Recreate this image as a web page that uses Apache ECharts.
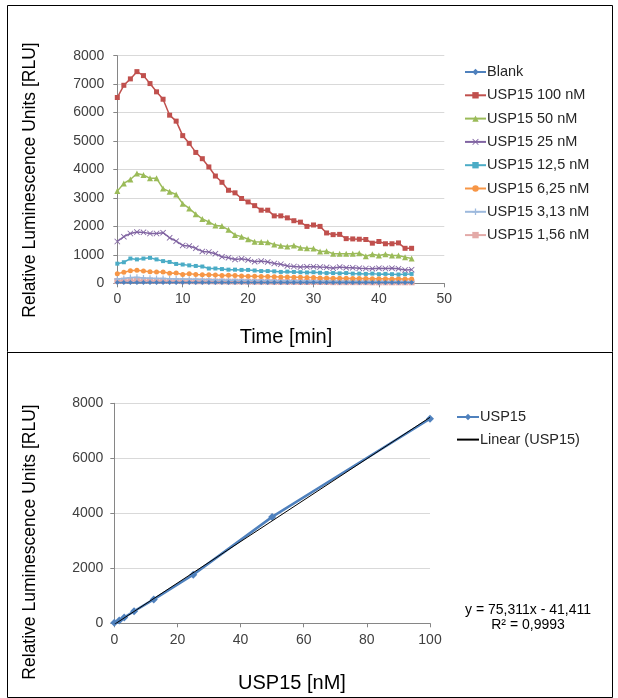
<!DOCTYPE html>
<html>
<head>
<meta charset="utf-8">
<script src="https://cdn.jsdelivr.net/npm/echarts@6/dist/echarts.min.js"></script>
<style>
html,body{margin:0;padding:0;background:#fff;}
#chart{width:618px;height:698px;}
</style>
</head>
<body>
<div id="chart"></div>
<script>
// ---------- DATA ----------
const timeMin = [0,1,2,3,4,5,6,7,8,9,10,11,12,13,14,15,16,17,18,19,20,21,22,23,24,25,26,27,28,29,30,31,32,33,34,35,36,37,38,39,40,41,42,43,44,45];
const seriesNames = ['Blank','USP15 100 nM','USP15 50 nM','USP15 25 nM','USP15 12,5 nM','USP15 6,25 nM','USP15 3,13 nM','USP15 1,56 nM'];
const blank   = [25,25,25,25,25,25,25,25,25,25,25,25,25,25,25,25,25,25,25,25,25,25,25,25,25,25,25,25,25,25,25,25,25,25,25,25,25,25,25,25,25,25,25,25,25,25];
const usp100  = [6530,6960,7185,7440,7300,7020,6730,6470,5910,5700,5190,4920,4600,4380,4090,3770,3550,3270,3180,2980,2860,2730,2570,2570,2370,2370,2300,2200,2150,2000,2050,2000,1770,1710,1720,1570,1560,1550,1540,1410,1470,1390,1390,1420,1230,1230];
const usp50   = [3240,3510,3650,3860,3810,3690,3690,3330,3220,3120,2800,2630,2430,2260,2160,2030,2010,1880,1700,1640,1550,1460,1450,1440,1360,1320,1290,1330,1250,1230,1220,1120,1130,1040,1040,1040,1040,1060,950,1020,980,1020,980,980,920,870];
const usp25   = [1470,1640,1750,1800,1790,1750,1750,1780,1600,1480,1330,1310,1230,1120,1100,1040,930,900,840,860,820,760,780,750,700,670,610,590,570,580,585,570,560,530,570,550,545,530,520,515,530,520,530,515,470,480];
const usp12_5 = [690,740,870,840,870,895,840,780,750,680,660,630,610,590,520,520,500,480,480,470,470,450,430,430,420,400,410,400,390,380,390,370,360,360,350,360,340,340,330,340,320,330,320,310,320,330];
const usp6_25 = [340,390,440,460,430,410,400,400,350,360,310,340,310,300,300,290,270,280,270,260,250,250,240,240,230,220,220,210,210,200,200,190,190,180,180,180,170,170,170,160,160,160,150,160,150,150];
const usp3_13 = [150,170,200,210,190,180,170,170,160,150,150,140,140,130,130,120,120,110,110,110,100,100,100,95,95,90,90,90,85,85,80,80,80,80,75,75,75,70,70,70,70,65,65,65,60,60];
const usp1_56 = [80,90,100,100,95,90,85,85,80,80,75,75,70,70,70,65,65,60,60,60,55,55,55,55,50,50,50,50,45,45,45,45,45,40,40,40,40,40,40,35,35,35,35,35,35,35];

const concNM   = [0,1.56,3.13,6.25,12.5,25,50,100];
const peakRLU  = [20,100,210,440,870,1770,3870,7440];
const trendX   = [0,100];
const trendY   = [-41.411,7489.689];

// ---------- STYLE ----------
const FONT = '"Liberation Sans", Arial, sans-serif';
const colors = ['#4F81BD','#C0504D','#9BBB59','#8064A2','#4BACC6','#F79646','#9DB9DD','#E3AAA8'];
const symX = 'path://M1,0L5,4L9,0L10,1L6,5L10,9L9,10L5,6L1,10L0,9L4,5L0,1Z';
const symPlus = 'path://M4,0H6V4H10V6H6V10H4V6H0V4H4Z';
const symDash = 'path://M0,4H10V6H0Z';
const symbols = ['diamond','rect','triangle',symX,'rect','circle',symPlus,symDash];
const symSizes = [5,5,6,6,4,5,6,6];
const allVals = [blank,usp100,usp50,usp25,usp12_5,usp6_25,usp3_13,usp1_56];

const plainNum = v => String(v);
const tickLabel = {color:'#404040', fontSize:14, fontFamily:FONT, formatter:plainNum};
const axisLineStyle = {lineStyle:{color:'#868686', width:1}};
const gridLine = {show:true, lineStyle:{color:'#d9d9d9', width:1}};

const topSeries = allVals.map((vals,i)=>({
  name: seriesNames[i],
  type:'line',
  xAxisIndex:0, yAxisIndex:0,
  data: timeMin.map((t,j)=>[t, vals[j]]),
  symbol: symbols[i],
  symbolSize: symSizes[i],
  showAllSymbol:true,
  lineStyle:{color:colors[i], width:1.5},
  itemStyle:{color:colors[i]},
  z: 10 - i,
  animation:false
}));

const option = {
  animation:false,
  backgroundColor:'#ffffff',
  textStyle:{fontFamily:FONT},
  grid:[
    {left:117.3, right:173.7, top:55.7, height:227.6},
    {left:114.3, right:188, top:403.3, height:220}
  ],
  xAxis:[
    {gridIndex:0, type:'value', min:0, max:50, interval:10,
     axisLine:{show:true, onZero:false, ...axisLineStyle},
     axisTick:{show:true, length:4, lineStyle:{color:'#868686'}},
     axisLabel:{...tickLabel, margin:9},
     splitLine:{show:false}},
    {gridIndex:1, type:'value', min:0, max:100, interval:20,
     axisLine:{show:true, onZero:false, ...axisLineStyle},
     axisTick:{show:true, length:4, lineStyle:{color:'#868686'}},
     axisLabel:{...tickLabel, margin:10},
     splitLine:{show:false}}
  ],
  yAxis:[
    {gridIndex:0, type:'value', min:0, max:8000, interval:1000,
     axisLine:{show:true, ...axisLineStyle},
     axisTick:{show:true, length:4, lineStyle:{color:'#868686'}},
     axisLabel:{...tickLabel, margin:13},
     splitLine:gridLine},
    {gridIndex:1, type:'value', min:0, max:8000, interval:2000,
     axisLine:{show:true, ...axisLineStyle},
     axisTick:{show:true, length:4, lineStyle:{color:'#868686'}},
     axisLabel:{...tickLabel, margin:11},
     splitLine:gridLine}
  ],
  legend:[
    {orient:'vertical', left:459, top:59.5, itemWidth:21, itemHeight:8, itemGap:8.3,
     textStyle:{color:'#262626', fontSize:14.5, fontFamily:FONT, lineHeight:14, padding:[0,0,0,-4]},
     data: seriesNames},
    {orient:'vertical', left:451, top:404.5, itemWidth:22, itemHeight:8, itemGap:7.6,
     textStyle:{color:'#262626', fontSize:14.5, fontFamily:FONT, lineHeight:14, padding:[0,0,0,-4]},
     data:['USP15', {name:'Linear (USP15)', itemStyle:{opacity:0}}]}
  ],
  series: topSeries.concat([
    {name:'USP15', type:'line', xAxisIndex:1, yAxisIndex:1,
     data: concNM.map((c,i)=>[c, peakRLU[i]]),
     symbol:'diamond', symbolSize:8,
     lineStyle:{color:'#4F81BD', width:2.5},
     itemStyle:{color:'#4F81BD'}, z:5},
    {name:'Linear (USP15)', type:'line', xAxisIndex:1, yAxisIndex:1,
     data: trendX.map((x,i)=>[x, trendY[i]]),
     symbol:'none', clip:true,
     lineStyle:{color:'#000000', width:1},
     itemStyle:{color:'#000000'}, z:6}
  ]),
  graphic:[
    {type:'rect', shape:{x:7.5, y:5.5, width:605, height:692}, style:{fill:'none', stroke:'#000', lineWidth:1}, silent:true},
    {type:'line', shape:{x1:7.5, y1:352.5, x2:612.5, y2:352.5}, style:{stroke:'#000', lineWidth:1}, silent:true},
    {type:'text', x:30, y:180, rotation:Math.PI/2,
     style:{text:'Relative Luminescence Units [RLU]', fontSize:17.5, fontFamily:FONT, fill:'#000', textAlign:'center', textVerticalAlign:'middle'}},
    {type:'text', x:30, y:542, rotation:Math.PI/2,
     style:{text:'Relative Luminescence Units [RLU]', fontSize:17.5, fontFamily:FONT, fill:'#000', textAlign:'center', textVerticalAlign:'middle'}},
    {type:'text', x:286, y:337,
     style:{text:'Time [min]', fontSize:20, fontFamily:FONT, fill:'#000', textAlign:'center', textVerticalAlign:'middle'}},
    {type:'text', x:292, y:683,
     style:{text:'USP15 [nM]', fontSize:20, fontFamily:FONT, fill:'#000', textAlign:'center', textVerticalAlign:'middle'}},
    {type:'text', x:528, y:610,
     style:{text:'y = 75,311x - 41,411', fontSize:14, fontFamily:FONT, fill:'#000', textAlign:'center', textVerticalAlign:'middle'}},
    {type:'text', x:528, y:625.5,
     style:{text:'R² = 0,9993', fontSize:14, fontFamily:FONT, fill:'#000', textAlign:'center', textVerticalAlign:'middle'}}
  ]
};
const chart = echarts.init(document.getElementById('chart'), null, {renderer:'canvas'});
chart.setOption(option);
</script>
</body>
</html>
